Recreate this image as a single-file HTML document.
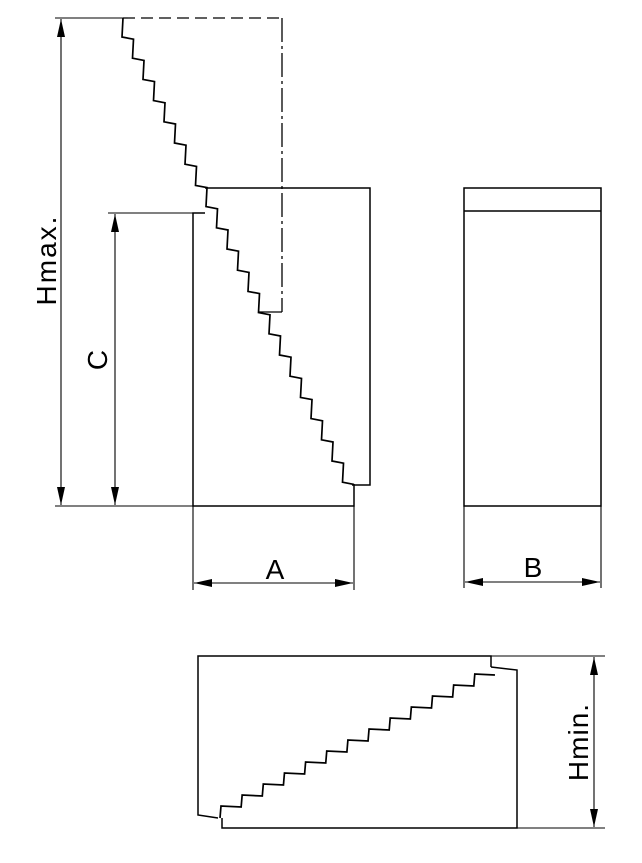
<!DOCTYPE html>
<html><head><meta charset="utf-8"><style>
html,body{margin:0;padding:0;background:#fff;}
svg{display:block;}
text{font-family:"Liberation Sans",sans-serif;fill:#000;}
</style></head><body>
<svg width="642" height="863" viewBox="0 0 642 863" xmlns="http://www.w3.org/2000/svg">
<defs>
<marker id="ar" viewBox="0 0 18 8" refX="18" refY="4" markerWidth="18" markerHeight="8" markerUnits="userSpaceOnUse" orient="auto-start-reverse">
<path d="M0,0 L18,4 L0,8 Z" fill="#000"/></marker>
</defs>
<g fill="none" stroke="#000" stroke-width="1.5">
<line x1="123" y1="18" x2="282" y2="18" stroke-dasharray="12,6" stroke-width="1.3"/>
<line x1="282" y1="18" x2="282" y2="312" stroke-dasharray="24,4,3,4" stroke-width="1.3"/>
<line x1="282" y1="312" x2="258" y2="312" stroke-width="1.3"/>
<path d="M123,18 l-1 19 l11.5 2.2 l-1 19 l11.5 2.2 l-1 19 l11.5 2.2 l-1 19 l11.5 2.2 l-1 19 l11.5 2.2 l-1 19 l11.5 2.2 l-1 19 l11.5 2.2 l-1 19 l11.5 2.2 l-1 19 l11.5 2.2 l-1 19 l11.5 2.2 l-1 19 l11.5 2.2 l-1 19 l11.5 2.2 l-1 19 l11.5 2.2 l-1 19 l11.5 2.2 l-1 19 l11.5 2.2 l-1 19 l11.5 2.2 l-1 19 l11.5 2.2 l-1 19 l11.5 2.2 l-1 19 l11.5 2.2 l-1 19 l11.5 2.2 l-1 19 l11.5 2.2 l-1 19 l11.5 2.2" stroke-width="1.7"/>
<polyline points="205,188 370,188 370,485 352,485"/>
<polyline points="205,213 193,213 193,506 354,506 354,484"/>
<rect x="464" y="188" width="137" height="318"/>
<line x1="464" y1="211" x2="601" y2="211"/>
<polyline points="218,818 198,815 198,656 491,656 491,667"/>
<polyline points="491,667 517,670 517,828 222,828 222,818"/>
<path d="M220,818 l1 -12 l20.15 1 l1 -12 l20.15 1 l1 -12 l20.15 1 l1 -12 l20.15 1 l1 -12 l20.15 1 l1 -12 l20.15 1 l1 -12 l20.15 1 l1 -12 l20.15 1 l1 -12 l20.15 1 l1 -12 l20.15 1 l1 -12 l20.15 1 l1 -12 l20.15 1 l1 -12 l20.15 1" stroke-width="1.7"/>
</g>
<g fill="none" stroke="#000" stroke-width="1.1">
<line x1="55" y1="18" x2="123" y2="18"/>
<line x1="55" y1="506" x2="193" y2="506"/>
<line x1="108" y1="213" x2="193" y2="213"/>
<line x1="193" y1="506" x2="193" y2="590"/>
<line x1="354" y1="506" x2="354" y2="590"/>
<line x1="464" y1="506" x2="464" y2="588"/>
<line x1="601" y1="506" x2="601" y2="588"/>
<line x1="491" y1="656" x2="605" y2="656"/>
<line x1="517" y1="828" x2="605" y2="828"/>
<line x1="61" y1="19" x2="61" y2="505" marker-start="url(#ar)" marker-end="url(#ar)"/>
<line x1="115" y1="214" x2="115" y2="505" marker-start="url(#ar)" marker-end="url(#ar)"/>
<line x1="194" y1="583" x2="353" y2="583" marker-start="url(#ar)" marker-end="url(#ar)"/>
<line x1="465" y1="582" x2="600" y2="582" marker-start="url(#ar)" marker-end="url(#ar)"/>
<line x1="594" y1="657" x2="594" y2="827" marker-start="url(#ar)" marker-end="url(#ar)"/>
</g>
<text x="275" y="579" font-size="28" text-anchor="middle">A</text>
<text x="533" y="577" font-size="28" text-anchor="middle">B</text>
<text transform="translate(56,260) rotate(-90)" font-size="28" letter-spacing="2" text-anchor="middle">Hmax.</text>
<text transform="translate(107,360) rotate(-90)" font-size="28" text-anchor="middle">C</text>
<text transform="translate(588,742) rotate(-90)" font-size="28" letter-spacing="1" text-anchor="middle">Hmin.</text>
</svg>
</body></html>
